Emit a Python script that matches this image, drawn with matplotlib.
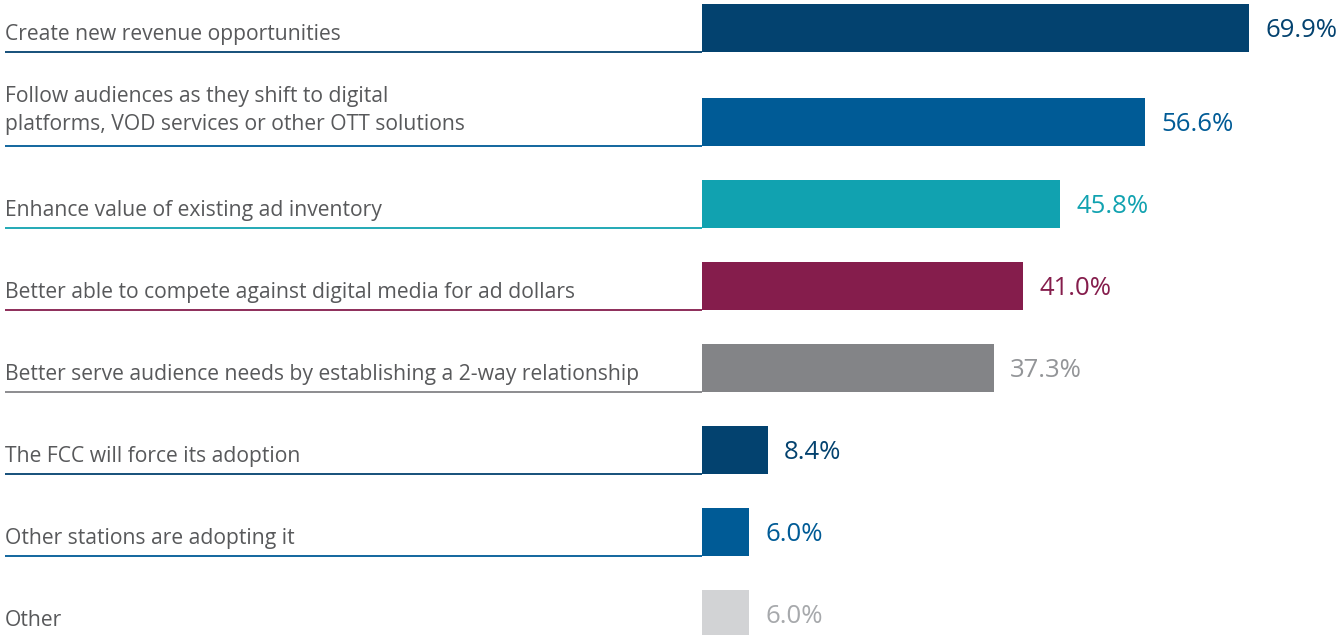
import matplotlib

matplotlib.use("Agg")
import matplotlib.pyplot as plt  # noqa: E402
import numpy as np  # noqa: E402

plt.rcParams["font.family"] = ["Open Sans", "DejaVu Sans"]

labels = [
    "Create new revenue opportunities",
    "Follow audiences as they shift to digital\nplatforms, VOD services or other OTT solutions",
    "Enhance value of existing ad inventory",
    "Better able to compete against digital media for ad dollars",
    "Better serve audience needs by establishing a 2-way relationship",
    "The FCC will force its adoption",
    "Other stations are adopting it",
    "Other",
]
values = [69.9, 56.6, 45.8, 41.0, 37.3, 8.4, 6.0, 6.0]
bar_colors = ["#03426f", "#005b96", "#11a2b0", "#851d4c", "#838487",
              "#03426f", "#005b96", "#d2d3d5"]
value_colors = ["#03426f", "#005b96", "#11a2b0", "#851d4c", "#939598",
                "#03426f", "#005b96", "#a7a9ac"]
underline = [True, True, True, True, True, True, True, False]

# layout (pixels on a 1340x635 canvas)
W, H = 1340, 635
px_per_pct = 7.825
bar_x0 = 702
pitch, bar_h, extra_line = 82, 48, 12

fig = plt.figure(figsize=(W / 100, H / 100), dpi=100)
ax = fig.add_axes([0, 0, 1, 1])
ax.set_xlim(-bar_x0 / px_per_pct, (W - bar_x0) / px_per_pct)
ax.set_ylim(H, 0)
ax.axis("off")

# rows with a two-line label get a bit more room above them
tops = []
y = 4
for i, lab in enumerate(labels):
    if i > 0:
        y += pitch + extra_line * lab.count("\n")
    tops.append(y)
tops = np.array(tops, dtype=float)
centers = tops + bar_h / 2
bottoms = tops + bar_h

ax.barh(centers, values, height=bar_h, left=0, color=bar_colors, linewidth=0)

x_text = (5 - bar_x0) / px_per_pct
for i, lab in enumerate(labels):
    n = lab.count("\n")
    ax.text(x_text, bottoms[i] - 12 - 4 * n, lab, fontsize=15.2, color="#58595b",
            va="baseline", ha="left", linespacing=1.45)
    if underline[i]:
        ax.hlines(bottoms[i], x_text, 0, color=bar_colors[i], lw=1.3)
    ax.text(values[i] + 2.1, centers[i] + 9, f"{values[i]:.1f}%", fontsize=18.5,
            color=value_colors[i], va="baseline", ha="left")

fig.savefig("out.png", dpi=100)
plt.close(fig)
